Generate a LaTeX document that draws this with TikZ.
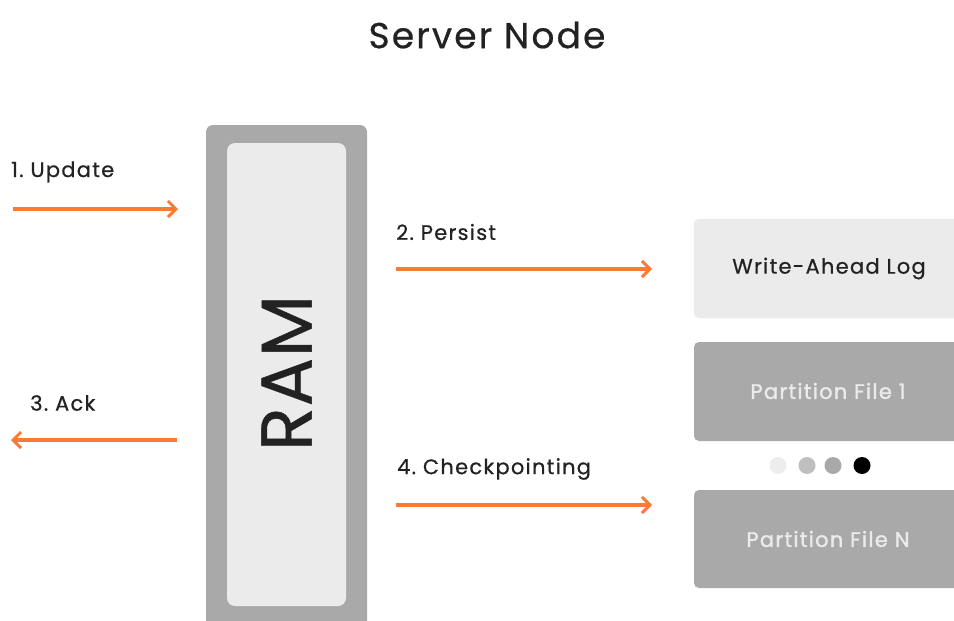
\documentclass[tikz,border=0pt]{standalone}
\usepackage{fontspec}
\setmainfont{Poppins}[LetterSpace=6,FakeBold=0.6]
\usetikzlibrary{arrows.meta}
\definecolor{arrowor}{HTML}{FA7B36}
\definecolor{boxdark}{HTML}{A9A9A9}
\definecolor{boxlight}{HTML}{EBEBEB}
\definecolor{txtdark}{HTML}{222222}
\tikzset{
  flow/.style={draw=arrowor, line width=3.2pt, -{Straight Barb[length=8pt,width=16pt,line width=3pt]}},
  lbl/.style={anchor=west, inner sep=0pt, text=txtdark, font=\fontsize{21}{24}\selectfont},
  filebox/.style={fill=boxdark, rounded corners=5pt, draw=none},
  filetxt/.style={text=boxlight, font=\fontsize{21}{24}\selectfont\addfontfeatures{FakeBold=1.4}},
  dot/.style={circle, minimum size=17pt, inner sep=0pt, draw=none},
}
\begin{document}
\begin{tikzpicture}[x=1pt,y=-1pt]
\useasboundingbox (0,0) rectangle (954,621);
% title
\node[text=txtdark, font=\fontsize{36}{40}\selectfont] (title) at (487,35) {Server Node};
% RAM
\path[fill=boxdark, rounded corners=7pt] (206,125) rectangle (367,628);
\path[fill=boxlight, rounded corners=8pt] (227,143) rectangle (346,606);
\node[rotate=90, text=txtdark, font=\fontsize{72}{74}\selectfont\addfontfeatures{LetterSpace=1}] (ram) at (286.5,373) {RAM};
% right boxes
\path[fill=boxlight, rounded corners=5pt, draw=black!8] (694,219) rectangle (970,318);
\node[text=txtdark, font=\fontsize{21}{24}\selectfont] (wal) at (829,268.5) {Write-Ahead Log};
\path[filebox] (694,342) rectangle (970,441);
\node[filetxt] (pf1) at (828,391) {Partition File 1};
\path[filebox] (694,490) rectangle (970,588);
\node[filetxt] (pfn) at (828,539) {Partition File N};
% dots
\node[dot, fill=black!7] (d1) at (778,465.5) {};
\node[dot, fill=black!25] (d2) at (807,465.5) {};
\node[dot, fill=boxdark] (d3) at (833,465.5) {};
\node[dot, fill=black] (d4) at (862,465.5) {};
% labels
\node[lbl] (l1) at (11,172) {1.~Update};
\node[lbl] (l2) at (396,232) {2.~Persist};
\node[lbl] (l3) at (30,403) {3.~Ack};
\node[lbl] (l4) at (397,469) {4.~Checkpointing};
% arrow end points
\coordinate (a1s) at (13,209);
\coordinate (a1e) at (178,209);
\coordinate (a2s) at (396,269);
\coordinate (a2e) at (652,269);
\coordinate (a3s) at (177,440);
\coordinate (a3e) at (11,440);
\coordinate (a4s) at (396,505);
\coordinate (a4e) at (652,505);
\draw[flow] (a1s) -- (a1e);
\draw[flow] (a2s) -- (a2e);
\draw[flow] (a3s) -- (a3e);
\draw[flow] (a4s) -- (a4e);
\end{tikzpicture}
\end{document}
